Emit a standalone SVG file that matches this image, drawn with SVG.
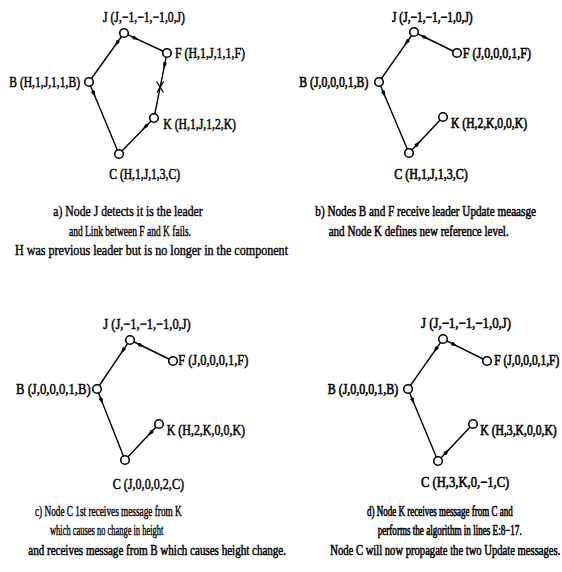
<svg xmlns="http://www.w3.org/2000/svg" width="562" height="572" viewBox="0 0 562 572">
<style>
  .edge { fill: none; stroke: #000; stroke-width: 1.4; marker-mid: url(#ah); }
  .plain { fill: none; stroke: #000; stroke-width: 1.3; }
  .node { fill: #fff; stroke: #000; stroke-width: 1.6; }
  .lbl { font-family: "Liberation Serif", "Times New Roman", serif; font-size: 15px; fill: #000; stroke: #000; stroke-width: 0.5; }
  .cap { font-family: "Liberation Serif", "Times New Roman", serif; font-size: 14px; fill: #000; stroke: #000; stroke-width: 0.4; }
</style>
<defs>
  <marker id="ah" viewBox="0 0 9 4.4" refX="8.5" refY="2.2" markerWidth="9" markerHeight="4.4" markerUnits="userSpaceOnUse" orient="auto">
    <path d="M0,2.2 L6,0.3 Q9.2,2.2 6,4.1 Z" fill="#000"/>
  </marker>
</defs>
<rect width="562" height="572" fill="#fff"/>

<g id="connectors">
  <!-- panel a -->
  <polyline class="edge" points="89,82 119.4,39.5 124,33"/>
  <polyline class="edge" points="167,53 131.3,36.4 124,33"/>
  <polyline class="edge" points="154,118 165.4,60.8 167,53"/>
  <polyline class="edge" points="119,154 92.1,89.4 89,82"/>
  <polyline class="edge" points="119,154 148.4,123.7 154,118"/>
  <path class="plain" d="M156.5,81.5 L163.5,92.5 M163.5,81.5 L157,92.5"/>
  <!-- panel b -->
  <polyline class="edge" points="379,82 409.4,38.6 414,32"/>
  <polyline class="edge" points="457,53 421.2,35.5 414,32"/>
  <polyline class="edge" points="409,153 382.1,89.4 379,82"/>
  <polyline class="edge" points="443,117 414.5,147.2 409,153"/>
  <!-- panel c -->
  <polyline class="edge" points="97,389 125.5,346.6 130,340"/>
  <polyline class="edge" points="173,361 137.2,343.5 130,340"/>
  <polyline class="edge" points="125,460 99.9,396.4 97,389"/>
  <polyline class="edge" points="125,460 153.5,429.8 159,424"/>
  <!-- panel d -->
  <polyline class="edge" points="408,389 438.4,345.6 443,339"/>
  <polyline class="edge" points="487,361 450.2,342.6 443,339"/>
  <polyline class="edge" points="438,461 411.1,396.4 408,389"/>
  <polyline class="edge" points="473,424 443.5,455.2 438,461"/>
</g>

<!-- panel a nodes -->
<g id="a-J"><circle class="node" cx="124" cy="33" r="4.3"/><text class="lbl" x="103" y="21.5" textLength="82" lengthAdjust="spacingAndGlyphs">J (J,−1,−1,−1,0,J)</text></g>
<g id="a-F"><circle class="node" cx="167" cy="53" r="4.3"/><text class="lbl" x="175" y="57.5" textLength="70" lengthAdjust="spacingAndGlyphs">F (H,1,J,1,1,F)</text></g>
<g id="a-B"><circle class="node" cx="89" cy="82" r="4.3"/><text class="lbl" x="9.3" y="87" textLength="70.7" lengthAdjust="spacingAndGlyphs">B (H,1,J,1,1,B)</text></g>
<g id="a-K"><circle class="node" cx="154" cy="118" r="4.3"/><text class="lbl" x="163.3" y="129" textLength="72.7" lengthAdjust="spacingAndGlyphs">K (H,1,J,1,2,K)</text></g>
<g id="a-C"><circle class="node" cx="119" cy="154" r="4.3"/><text class="lbl" x="109.3" y="179" textLength="70.7" lengthAdjust="spacingAndGlyphs">C (H,1,J,1,3,C)</text></g>
<g id="a-caption">
  <text class="cap" x="53.3" y="216" textLength="149.4" lengthAdjust="spacingAndGlyphs">a) Node J detects it is the leader</text>
  <text class="cap" x="69" y="236" textLength="122" lengthAdjust="spacingAndGlyphs">and Link between F and K fails.</text>
  <text class="cap" x="15" y="255" textLength="273" lengthAdjust="spacingAndGlyphs">H was previous leader but is no longer in the component</text>
</g>

<!-- panel b nodes -->
<g id="b-J"><circle class="node" cx="414" cy="32" r="4.3"/><text class="lbl" transform="translate(392,21.5) scale(1,1.306)" style="font-size:11.49px" textLength="80.7" lengthAdjust="spacingAndGlyphs">J (J,−1,−1,−1,0,J)</text></g>
<g id="b-F"><circle class="node" cx="457" cy="53" r="4.3"/><text class="lbl" transform="translate(462.7,57.5) scale(1,1.245)" style="font-size:12.05px" textLength="68.3" lengthAdjust="spacingAndGlyphs">F (J,0,0,0,1,F)</text></g>
<g id="b-B"><circle class="node" cx="379" cy="82" r="4.3"/><text class="lbl" transform="translate(299.3,87) scale(1,1.28)" style="font-size:11.72px" textLength="69" lengthAdjust="spacingAndGlyphs">B (J,0,0,0,1,B)</text></g>
<g id="b-K"><circle class="node" cx="443" cy="117" r="4.3"/><text class="lbl" transform="translate(451,128) scale(1,1.293)" style="font-size:11.6px" textLength="76" lengthAdjust="spacingAndGlyphs">K (H,2,K,0,0,K)</text></g>
<g id="b-C"><circle class="node" cx="409" cy="153" r="4.3"/><text class="lbl" transform="translate(394.3,179) scale(1,1.249)" style="font-size:12.01px" textLength="73.4" lengthAdjust="spacingAndGlyphs">C (H,1,J,1,3,C)</text></g>
<g id="b-caption">
  <text class="cap" transform="translate(315.3,216) scale(1,1.251)" style="font-size:11.19px" textLength="220.7" lengthAdjust="spacingAndGlyphs">b) Nodes B and F receive leader Update meaasge</text>
  <text class="cap" transform="translate(328.7,236) scale(1,1.268)" style="font-size:11.04px" textLength="180" lengthAdjust="spacingAndGlyphs">and Node K defines new reference level.</text>
</g>

<!-- panel c nodes -->
<g id="c-J"><circle class="node" cx="130" cy="340" r="4.3"/><text class="lbl" x="103.3" y="328.5" textLength="87.4" lengthAdjust="spacingAndGlyphs">J (J,−1,−1,−1,0,J)</text></g>
<g id="c-F"><circle class="node" cx="173" cy="361" r="4.3"/><text class="lbl" x="178.3" y="365" textLength="70" lengthAdjust="spacingAndGlyphs">F (J,0,0,0,1,F)</text></g>
<g id="c-B"><circle class="node" cx="97" cy="389" r="4.3"/><text class="lbl" x="16" y="394" textLength="74.7" lengthAdjust="spacingAndGlyphs">B (J,0,0,0,1,B)</text></g>
<g id="c-K"><circle class="node" cx="159" cy="424" r="4.3"/><text class="lbl" x="166.7" y="435" textLength="78.3" lengthAdjust="spacingAndGlyphs">K (H,2,K,0,0,K)</text></g>
<g id="c-C"><circle class="node" cx="125" cy="460" r="4.3"/><text class="lbl" x="112.7" y="489" textLength="71.3" lengthAdjust="spacingAndGlyphs">C (J,0,0,0,2,C)</text></g>
<g id="c-caption">
  <text class="cap" x="35" y="516" textLength="146.7" lengthAdjust="spacingAndGlyphs">c) Node C 1st receives message from K</text>
  <text class="cap" x="50" y="535" textLength="113.3" lengthAdjust="spacingAndGlyphs">which causes no change in height</text>
  <text class="cap" transform="translate(28.3,555) scale(1,1.269)" style="font-size:11.03px" textLength="257.7" lengthAdjust="spacingAndGlyphs">and receives message from B which causes height change.</text>
</g>

<!-- panel d nodes -->
<g id="d-J"><circle class="node" cx="443" cy="339" r="4.3"/><text class="lbl" transform="translate(421,328) scale(1,1.171)" style="font-size:12.81px" textLength="90" lengthAdjust="spacingAndGlyphs">J (J,−1,−1,−1,0,J)</text></g>
<g id="d-F"><circle class="node" cx="487" cy="361" r="4.3"/><text class="lbl" transform="translate(494.3,365) scale(1,1.308)" style="font-size:11.47px" textLength="65" lengthAdjust="spacingAndGlyphs">F (J,0,0,0,1,F)</text></g>
<g id="d-B"><circle class="node" cx="408" cy="389" r="4.3"/><text class="lbl" transform="translate(327.7,394) scale(1,1.251)" style="font-size:11.99px" textLength="70.6" lengthAdjust="spacingAndGlyphs">B (J,0,0,0,1,B)</text></g>
<g id="d-K"><circle class="node" cx="473" cy="424" r="4.3"/><text class="lbl" transform="translate(480.3,435) scale(1,1.287)" style="font-size:11.66px" textLength="76.4" lengthAdjust="spacingAndGlyphs">K (H,3,K,0,0,K)</text></g>
<g id="d-C"><circle class="node" cx="438" cy="461" r="4.3"/><text class="lbl" transform="translate(421,487) scale(1,1.19)" style="font-size:12.6px" textLength="88.3" lengthAdjust="spacingAndGlyphs">C (H,3,K,0,−1,C)</text></g>
<g id="d-caption">
  <text class="cap" transform="translate(367,516) scale(1,1.556)" style="font-size:9px" textLength="145.7" lengthAdjust="spacingAndGlyphs">d) Node K receives message from C and</text>
  <text class="cap" transform="translate(377.7,535) scale(1,1.54)" style="font-size:9.09px" textLength="144" lengthAdjust="spacingAndGlyphs">performs the algorithm in lines E:8−17.</text>
  <text class="cap" transform="translate(330.3,555) scale(1,1.32)" style="font-size:10.6px" textLength="230" lengthAdjust="spacingAndGlyphs">Node C will now propagate the two Update messages.</text>
</g>
</svg>
